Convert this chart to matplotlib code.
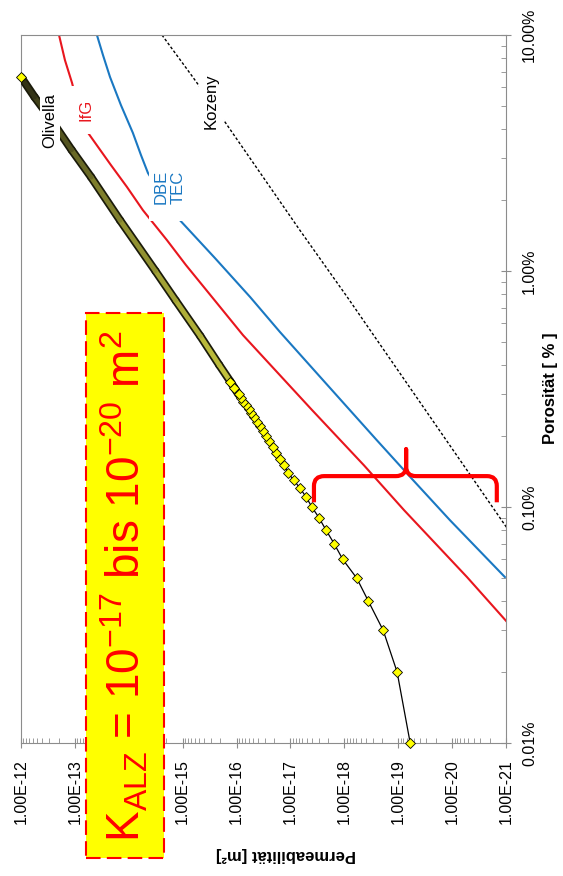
import matplotlib
matplotlib.use("Agg")
import matplotlib.pyplot as plt
import numpy as np
import matplotlib.patheffects as pe
from matplotlib.collections import LineCollection
from matplotlib.colors import LinearSegmentedColormap, LogNorm
from matplotlib.path import Path
from matplotlib.patches import PathPatch, Rectangle
from matplotlib.ticker import LogLocator, NullFormatter

plt.rcParams["font.family"] = ["Liberation Sans", "DejaVu Sans"]
plt.rcParams["mathtext.fontset"] = "custom"
plt.rcParams["mathtext.rm"] = "Liberation Sans"
plt.rcParams["mathtext.it"] = "Liberation Sans:italic"
plt.rcParams["mathtext.bf"] = "Liberation Sans:bold"

# porosity [%] and permeability [m^2]
olivella_por = [0.01, 0.02, 0.03, 0.04, 0.05, 0.06, 0.07, 0.08, 0.09, 0.10,
                0.11, 0.12, 0.13, 0.14, 0.15, 0.16, 0.17, 0.18, 0.19, 0.20,
                0.21, 0.22, 0.23, 0.24, 0.25, 0.26, 0.27, 0.28, 0.29, 0.30,
                0.32, 0.34, 0.40, 0.53, 0.75, 1.00, 1.64, 2.50, 3.26, 4.50,
                5.46, 6.64]
olivella_perm = [6.0e-20, 1.05e-19, 1.9e-19, 3.6e-19, 5.9e-19, 1.07e-18,
                 1.55e-18, 2.2e-18, 2.95e-18, 4.0e-18, 5.1e-18, 6.6e-18,
                 8.7e-18, 1.12e-17, 1.32e-17, 1.55e-17, 1.85e-17, 2.15e-17,
                 2.5e-17, 2.9e-17, 3.3e-17, 3.7e-17, 4.25e-17, 4.8e-17,
                 5.4e-17, 6.0e-17, 6.7e-17, 7.5e-17, 8.3e-17, 9.2e-17,
                 1.1e-16, 1.3e-16, 2.1e-16, 4.7e-16, 1.35e-15, 3.2e-15,
                 1.45e-14, 5.0e-14, 1.15e-13, 3.0e-13, 5.6e-13, 1.0e-12]

ifg_por = [10.0, 7.83, 6.27, 4.81, 3.85, 3.26, 2.81, 2.27, 1.81, 1.35, 1.06,
           0.776, 0.535, 0.362, 0.258, 0.15, 0.097, 0.0505, 0.0326]
ifg_perm = [1.97e-13, 1.53e-13, 1.13e-13, 8.4e-14, 5.7e-14, 3.4e-14, 2.14e-14,
            1.08e-14, 5.46e-15, 1.95e-15, 8.7e-16, 2.86e-16, 7.6e-17, 1.57e-17,
            4.0e-18, 4.3e-19, 7.8e-20, 5.3e-21, 9.6e-22]

dbe_por = [10.0, 8.22, 6.64, 5.05, 3.85, 3.10, 2.60, 2.06, 1.64, 1.135,
           0.776, 0.552, 0.345, 0.192, 0.130, 0.088, 0.0505]
dbe_perm = [3.9e-14, 3.01e-14, 2.23e-14, 1.40e-14, 8.4e-15, 5.94e-15, 4.4e-15,
            2.32e-15, 1.12e-15, 2.52e-16, 5.6e-17, 1.57e-17, 2.49e-18,
            2.5e-19, 5.3e-20, 1.1e-20, 1.05e-21]

kozeny_por = [10.0, 6.64, 4.28, 1.49, 0.769, 0.0815]
kozeny_perm = [2.42e-15, 6.5e-16, 1.64e-16, 6.7e-18, 8.6e-19, 9.6e-22]

perm_ticks = [1e-12, 1e-13, 1e-14, 1e-15, 1e-16, 1e-17, 1e-18, 1e-19, 1e-20, 1e-21]
por_ticks = [0.01, 0.1, 1.0, 10.0]

RED = "#e8161e"
BLUE = "#1a78c2"
GRAY = "#8c8c8c"

fig = plt.figure(figsize=(5.63, 8.76), dpi=100)
ax = fig.add_axes([0.0373, 0.1518, 0.8615, 0.8082])
ax.set_xscale("log")
ax.set_yscale("log")

# chart is drawn turned by 90 degrees: permeability runs left->right, porosity upwards
ax.plot(kozeny_perm, kozeny_por, color="black", lw=1.0, ls=(0, (2, 1.5)), zorder=2)
ax.plot(ifg_perm, ifg_por, color=RED, lw=1.5, zorder=2)
ax.plot(dbe_perm, dbe_por, color=BLUE, lw=1.5, zorder=2)

# Olivella: thin line, dense marker band, single markers at the low end
ax.plot(olivella_perm, olivella_por, color="black", lw=0.9, zorder=3)

band = [i for i, p in enumerate(olivella_por) if p >= 0.3]
pts = np.column_stack([olivella_perm, olivella_por])[band]
segs = np.stack([pts[:-1], pts[1:]], axis=1)
band_cmap = LinearSegmentedColormap.from_list(
    "band", ["#c9c93e", "#a3a335", "#77772a", "#2c2c14"])
lc = LineCollection(segs, cmap=band_cmap, norm=LogNorm(0.3, 6.64),
                    linewidths=3.4, capstyle="round", zorder=3)
lc.set_array(np.sqrt(pts[:-1, 1] * pts[1:, 1]))
lc.set_path_effects([pe.Stroke(linewidth=5.9, foreground="#1a1a0a"), pe.Normal()])
ax.add_collection(lc)

marker_idx = [i for i, p in enumerate(olivella_por) if p <= 0.34] + [len(olivella_por) - 1]
ax.plot([olivella_perm[i] for i in marker_idx], [olivella_por[i] for i in marker_idx],
        ls="none", marker="D", ms=5, mfc="#ffff00", mec="black", mew=0.6,
        zorder=4, clip_on=False)

ax.set_xlim(1e-12, 1e-21)
ax.set_ylim(0.01, 10)

# the 1.00E-14 label sits under the yellow box in the original
perm_labels = ["" if v == 1e-14 else f"{v:.2E}" for v in perm_ticks]
ax.set_xticks(perm_ticks, labels=perm_labels, rotation=90, ha="center", va="top")
ax.yaxis.tick_right()
ax.set_yticks(por_ticks, labels=[f"{v:.2f}%" for v in por_ticks],
              rotation=90, ha="left", va="center")
for axis in (ax.xaxis, ax.yaxis):
    axis.set_minor_locator(LogLocator(base=10, subs=np.arange(2, 10), numticks=100))
    axis.set_minor_formatter(NullFormatter())

ax.tick_params(which="major", direction="inout", length=7, width=0.8,
               color=GRAY, labelsize=11.5, pad=8)
ax.tick_params(which="minor", direction="in", length=3.5, width=0.6, color=GRAY)
ax.tick_params(axis="y", which="both", left=False, right=True)
for s in ax.spines.values():
    s.set_color(GRAY)
    s.set_linewidth(0.8)

ax.set_xlabel("Permeabilität [m²]", rotation=180, fontsize=12, fontweight="bold",
              ha="center", va="center")
ax.xaxis.set_label_coords(0.546, -0.158)
ax.yaxis.set_label_position("right")
ax.set_ylabel("Porosität [ % ]", rotation=90, fontsize=12, fontweight="bold",
              ha="center", va="center", rotation_mode="default")
ax.yaxis.set_label_coords(1.0907, 0.501)

# curve labels
lab = dict(transform=ax.transAxes, rotation=90, ha="center", va="center",
           fontsize=12, zorder=5)
ax.text(0.0598, 0.8785, "Olivella", color="black",
        bbox=dict(boxstyle="square,pad=0.15", fc="white", ec="none"), **lab)
ax.text(0.134, 0.894, "IfG", color=RED,
        bbox=dict(boxstyle="square,pad=0.75", fc="white", ec="none"), **lab)
# white label area of DBE/TEC reaches further down than the text
ax.add_patch(Rectangle((0.264, 0.737), 0.089, 0.076, transform=ax.transAxes,
                       facecolor="white", edgecolor="none", zorder=4.5))
ax.text(0.307, 0.785, "DBE\nTEC", color=BLUE, multialignment="left", **lab)
ax.text(0.392, 0.907, "Kozeny", color="black",
        bbox=dict(boxstyle="square,pad=0.3", fc="white", ec="none"), **lab)

# red brace marking the range
P = Path
verts = [(0.604, 0.340), (0.604, 0.363), (0.604, 0.377), (0.625, 0.377),
         (0.773, 0.377), (0.794, 0.377), (0.794, 0.391), (0.794, 0.415),
         (0.794, 0.391), (0.794, 0.377), (0.814, 0.377), (0.961, 0.377),
         (0.981, 0.377), (0.981, 0.363), (0.981, 0.340)]
codes = [P.MOVETO, P.LINETO, P.CURVE3, P.CURVE3, P.LINETO, P.CURVE3, P.CURVE3,
         P.LINETO, P.LINETO, P.CURVE3, P.CURVE3, P.LINETO, P.CURVE3, P.CURVE3,
         P.LINETO]
ax.add_patch(PathPatch(Path(verts, codes), transform=ax.transAxes, fill=False,
                       edgecolor="#ff0000", lw=3, capstyle="butt",
                       joinstyle="round", clip_on=False, zorder=6))

# yellow K_ALZ box
fig.add_artist(Rectangle((0.1528, 0.0205), 0.1385, 0.6225, transform=fig.transFigure,
                         facecolor="#ffff00", edgecolor="#ff0000", lw=1.5,
                         ls=(0, (7, 3)), zorder=5))
fig.text(0.2224, 0.331,
         r"K$_{\mathregular{ALZ}}$ = 10$^{\mathregular{-17}}$ bis "
         r"10$^{\mathregular{-20}}$ m$^{\mathregular{2}}$",
         rotation=90, ha="center", va="center", fontsize=33, color="#ff0000",
         zorder=6)

fig.savefig("out.png", dpi=100)
